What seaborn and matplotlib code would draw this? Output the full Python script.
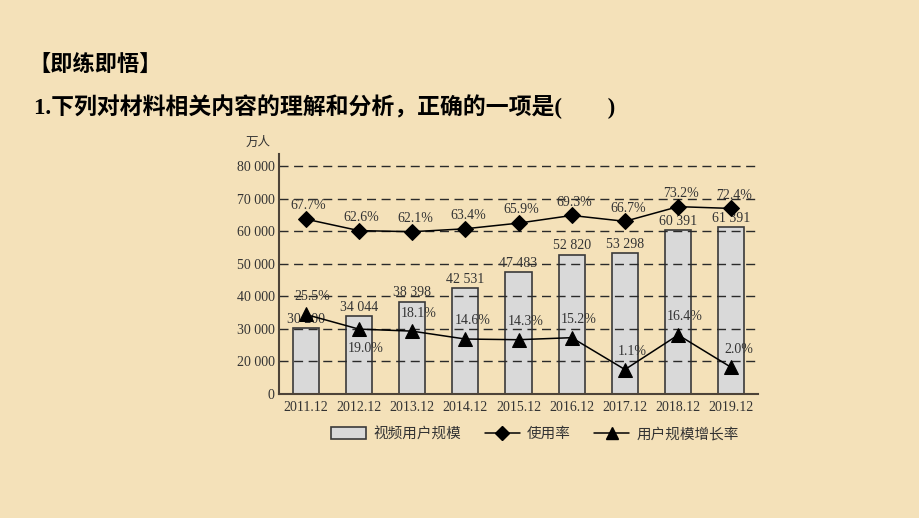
import numpy as np
import seaborn as sns
import matplotlib.pyplot as plt
from matplotlib.patches import Patch
from matplotlib.lines import Line2D

# Data
periods = ["2011.12", "2012.12", "2013.12", "2014.12", "2015.12",
           "2016.12", "2017.12", "2018.12", "2019.12"]
users = [30200, 34044, 38398, 42531, 47483, 52820, 53298, 60391, 61391]
usage_rate = [67.7, 62.6, 62.1, 63.4, 65.9, 69.3, 66.7, 73.2, 72.4]
growth_rate = [25.5, 19.0, 18.1, 14.6, 14.3, 15.2, 1.1, 16.4, 2.0]
ytick_values = [10000, 20000, 30000, 40000, 50000, 60000, 70000, 80000]
ytick_labels = ["0", "20 000", "30 000", "40 000", "50 000", "60 000", "70 000", "80 000"]
legend_labels = ["视频用户规模", "使用率", "用户规模增长率"]

# Theme
sns.set_theme(style="white")
serif = ["Liberation Serif", "Noto Sans CJK SC"]
plt.rcParams["font.family"] = serif

bg = "#F4E1B9"
ink = "#333333"
spine_col = "#4d4338"
bar_fill = "#D9D9D9"

fig = plt.figure(figsize=(9.2, 5.18), dpi=100, facecolor=bg)
ax = fig.add_axes([279 / 920, 1 - 394 / 518, (758 - 279) / 920, (394 - 154) / 518])
ax.set_facecolor("none")

# ------------------ BARS ------------------
sns.barplot(ax=ax, x=periods, y=users, color=bar_fill, saturation=1,
            width=0.49, edgecolor="#3a3a3a", linewidth=1.2, zorder=1)
ax.set_ylim(10000, 83700)
ax.set_xlim(-0.5, len(periods) - 0.5)
ax.set_yticks(ytick_values)
ax.set_yticklabels(ytick_labels)
ax.set_xlabel("")
ax.set_ylabel("")

ax.set_axisbelow(False)
ax.yaxis.grid(True, color="#2a2a2a", linestyle=(0, (6.5, 4)), linewidth=1.0)
ax.xaxis.grid(False)

for s in ["top", "right"]:
    ax.spines[s].set_visible(False)
for s in ["left", "bottom"]:
    ax.spines[s].set_color(spine_col)
    ax.spines[s].set_linewidth(1.5)
    ax.spines[s].set_zorder(5)

ax.set_xticks(np.arange(len(periods) + 1) - 0.5, minor=True)
ax.tick_params(axis="x", which="major", length=0, pad=5, labelsize=10, labelcolor=ink)
ax.tick_params(axis="x", which="minor", direction="in", length=4, width=1.2, color=spine_col)
ax.tick_params(axis="y", length=0, pad=3, labelsize=10, labelcolor=ink)

for i, v in enumerate(users):
    ax.annotate(f"{v:,}".replace(",", " "), (i, v), xytext=(0, 1.5),
                textcoords="offset points", ha="center", va="bottom",
                fontsize=10, color=ink)

# ------------------ LINES ------------------
ax2 = ax.twinx()
ax2.set_ylim(-9.73, 96.5)
for s in ax2.spines.values():
    s.set_visible(False)
ax2.set_yticks([])
ax2.grid(False)

xs = np.arange(len(periods))
sns.lineplot(ax=ax2, x=xs, y=usage_rate, color="black", linewidth=1.1,
             marker="D", markersize=8, markeredgecolor="black", markerfacecolor="black")
sns.lineplot(ax=ax2, x=xs, y=growth_rate, color="black", linewidth=1.1,
             marker="^", markersize=10, markeredgecolor="black", markerfacecolor="black")

for i, p in enumerate(usage_rate):
    ax2.annotate(f"{p}%", (i, p), xytext=(2, 9.5), textcoords="offset points",
                 ha="center", va="center", fontsize=10, color=ink)

for i, p in enumerate(growth_rate):
    dy = -14 if i == 1 else 13
    ax2.annotate(f"{p}%", (i, p), xytext=(5, dy), textcoords="offset points",
                 ha="center", va="center", fontsize=10, color=ink)

# ------------------ TEXT ------------------
fig.text(258 / 920, 1 - 143 / 518, "万人", ha="center", va="center",
         fontsize=9, color=ink, family=serif)
fig.text(28 / 920, 1 - 66 / 518, "【即练即悟】", ha="left", va="center",
         fontsize=16, fontweight="bold", color="black", family=serif)
fig.text(34 / 920, 1 - 107 / 518, "1.下列对材料相关内容的理解和分析，正确的一项是(　　)",
         ha="left", va="center", fontsize=16.5, fontweight="bold", color="black",
         family=serif)

# ------------------ LEGEND ------------------
handles = [
    Patch(facecolor=bar_fill, edgecolor="#3a3a3a", linewidth=1.2),
    Line2D([], [], color="black", linewidth=1.1, marker="D", markersize=7),
    Line2D([], [], color="black", linewidth=1.1, marker="^", markersize=9),
]
fig.legend(handles, legend_labels, loc="center", bbox_to_anchor=(535 / 920, 1 - 434 / 518),
           ncol=3, frameon=False, fontsize=10.5, handlelength=2.4, handleheight=0.8,
           columnspacing=1.6, handletextpad=0.5, labelcolor=ink)

fig.savefig("out.png", dpi=100, facecolor=bg)
